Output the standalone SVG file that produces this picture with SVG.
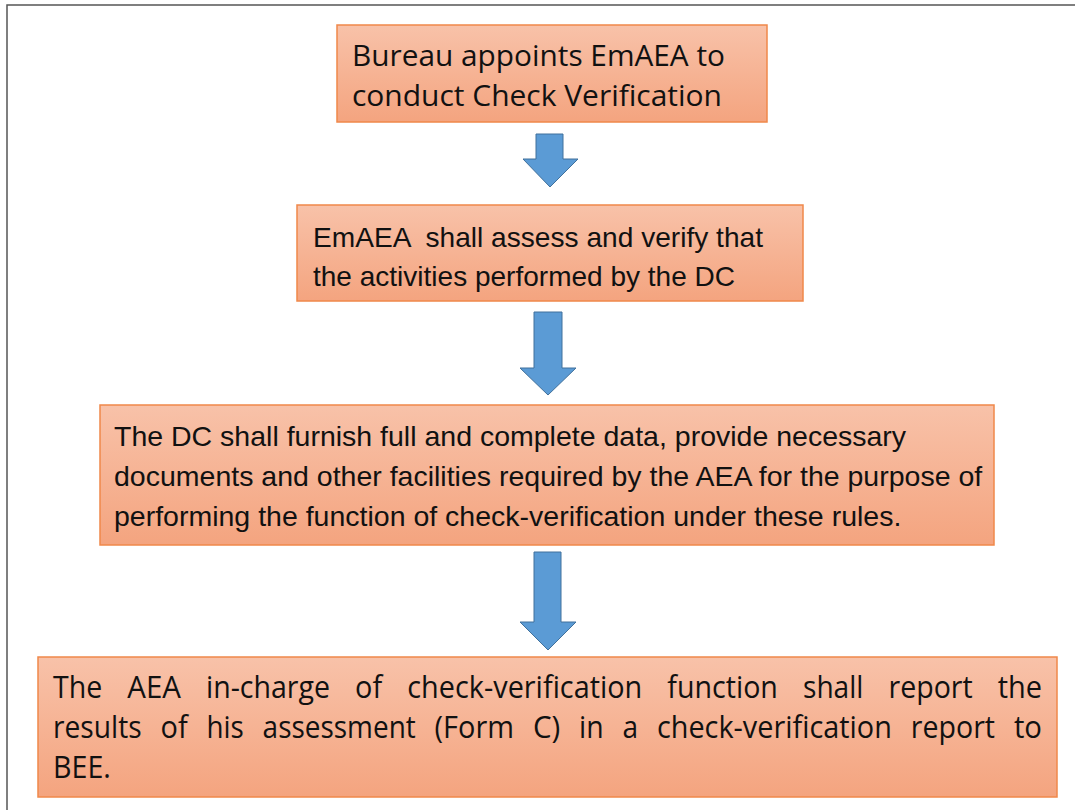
<svg xmlns="http://www.w3.org/2000/svg" width="1075" height="810" viewBox="0 0 1075 810">
<style>
.box{fill:url(#og);stroke:#f0884a;stroke-width:1.5}
.arr{fill:#5b9bd5;stroke:#41719c;stroke-width:1}
.cal{font-family:"Open Sans","Lato",sans-serif;fill:#111}
.ari{font-family:"Liberation Sans",Arial,sans-serif;fill:#111}
.frame{stroke:#555;stroke-width:1.5;fill:none}
</style>
<defs>
<linearGradient id="og" x1="0" y1="0" x2="0" y2="1">
<stop offset="0" stop-color="#f8c2a9"/>
<stop offset="1" stop-color="#f4a47f"/>
</linearGradient>
</defs>
<rect width="1075" height="810" fill="#fff"/>
<path class="frame" d="M7,810 V5 H1075"/>
<g id="connectors">
<polygon class="arr" points="536,134 563,134 563,159 578,159 550,187 523,159 536,159"/>
<polygon class="arr" points="534,312 562,312 562,368 576,368 548,395 520,368 534,368"/>
<polygon class="arr" points="534,552 561,552 561,622 576,622 548,650 520,622 534,622"/>
</g>
<g id="node1">
<rect class="box" x="337" y="25" width="430" height="97"/>
<text class="cal" font-size="30" x="352" y="66" textLength="373" lengthAdjust="spacingAndGlyphs">Bureau appoints EmAEA to</text>
<text class="cal" font-size="30" x="352" y="106" textLength="370" lengthAdjust="spacingAndGlyphs">conduct Check Verification</text>
</g>
<g id="node2">
<rect class="box" x="297" y="205" width="506" height="96"/>
<text class="ari" font-size="28" x="313" y="247" xml:space="preserve" textLength="450" lengthAdjust="spacingAndGlyphs">EmAEA  shall assess and verify that</text>
<text class="ari" font-size="28" x="313" y="286" textLength="422" lengthAdjust="spacingAndGlyphs">the activities performed by the DC</text>
</g>
<g id="node3">
<rect class="box" x="100" y="405" width="894" height="140"/>
<text class="ari" font-size="28.5" x="114" y="446">The DC shall furnish full and complete data, provide necessary</text>
<text class="ari" font-size="28.5" x="114" y="486">documents and other facilities required by the AEA for the purpose of</text>
<text class="ari" font-size="28.5" x="114" y="526">performing the function of check-verification under these rules.</text>
</g>
<g id="node4">
<rect class="box" x="38" y="657" width="1019" height="140"/>
<g class="cal" font-size="31">
<text x="53" y="698" textLength="49.2" lengthAdjust="spacingAndGlyphs">The</text>
<text x="127.3" y="698" textLength="53.7" lengthAdjust="spacingAndGlyphs">AEA</text>
<text x="206" y="698" textLength="124" lengthAdjust="spacingAndGlyphs">in-charge</text>
<text x="355.1" y="698" textLength="27.1" lengthAdjust="spacingAndGlyphs">of</text>
<text x="407.3" y="698" textLength="235" lengthAdjust="spacingAndGlyphs">check-verification</text>
<text x="667.3" y="698" textLength="110.6" lengthAdjust="spacingAndGlyphs">function</text>
<text x="803" y="698" textLength="60.4" lengthAdjust="spacingAndGlyphs">shall</text>
<text x="888.5" y="698" textLength="84.2" lengthAdjust="spacingAndGlyphs">report</text>
<text x="997.7" y="698" textLength="44.3" lengthAdjust="spacingAndGlyphs">the</text>
<text x="53" y="738" textLength="88.6" lengthAdjust="spacingAndGlyphs">results</text>
<text x="160.5" y="738" textLength="27.1" lengthAdjust="spacingAndGlyphs">of</text>
<text x="206.4" y="738" textLength="37.3" lengthAdjust="spacingAndGlyphs">his</text>
<text x="262.6" y="738" textLength="153.2" lengthAdjust="spacingAndGlyphs">assessment</text>
<text x="434.6" y="738" textLength="79.4" lengthAdjust="spacingAndGlyphs">(Form</text>
<text x="532.9" y="738" textLength="27.3" lengthAdjust="spacingAndGlyphs">C)</text>
<text x="579" y="738" textLength="24.6" lengthAdjust="spacingAndGlyphs">in</text>
<text x="622.4" y="738" textLength="15.6" lengthAdjust="spacingAndGlyphs">a</text>
<text x="656.9" y="738" textLength="235" lengthAdjust="spacingAndGlyphs">check-verification</text>
<text x="910.8" y="738" textLength="84.2" lengthAdjust="spacingAndGlyphs">report</text>
<text x="1013.9" y="738" textLength="28.1" lengthAdjust="spacingAndGlyphs">to</text>
<text x="53" y="778" textLength="57.8" lengthAdjust="spacingAndGlyphs">BEE.</text>
</g>
</g>
</svg>
